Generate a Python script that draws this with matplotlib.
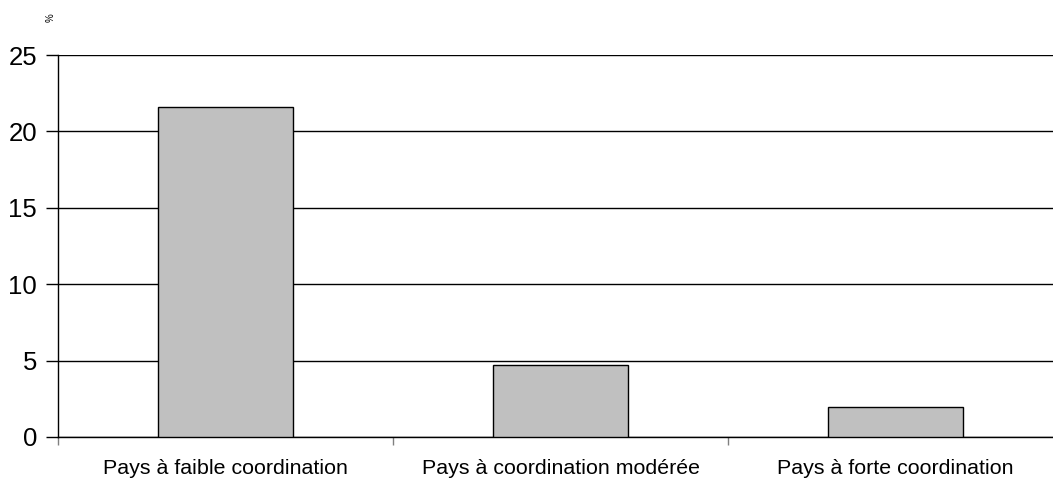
import matplotlib.pyplot as plt
import numpy as np

categories = ["Pays à faible coordination", "Pays à coordination modérée", "Pays à forte coordination"]
values = [21.6, 4.7, 1.95]
yticks = [0, 5, 10, 15, 20, 25]

plt.rcParams['font.family'] = ['Liberation Sans', 'DejaVu Sans']

fig = plt.figure(figsize=(10.53, 4.79), dpi=100)
ax = fig.add_axes([58 / 1053, 42 / 479, 1005 / 1053, 382 / 479])

x = np.arange(len(categories))
ax.bar(x, values, width=0.405, color='#c0c0c0', edgecolor='black', linewidth=1.0, zorder=3)

ax.set_ylim(0, 25)
ax.set_xlim(-0.5, len(categories) - 0.5)
ax.set_yticks(yticks)
ax.yaxis.grid(True, color='black', linewidth=1.0, zorder=0)
ax.set_axisbelow(True)

# category labels centred, tick marks on category boundaries
ax.set_xticks(x)
ax.set_xticklabels(categories, fontsize=15.4)
ax.tick_params(axis='x', length=0, pad=16)
ax.set_xticks(np.arange(-0.5, len(categories)), minor=True)
ax.tick_params(axis='x', which='minor', length=6, color='#808080', width=1)

ax.tick_params(axis='y', labelsize=18.5, length=9, width=1, pad=6)

for side in ['top', 'right']:
    ax.spines[side].set_visible(False)
ax.spines['left'].set_linewidth(1.0)
ax.spines['bottom'].set_linewidth(1.0)

fig.text(51 / 1053, 1 - 18 / 479, "%", fontsize=7, rotation=90, ha='center', va='center')

fig.savefig("out.png", dpi=100)
